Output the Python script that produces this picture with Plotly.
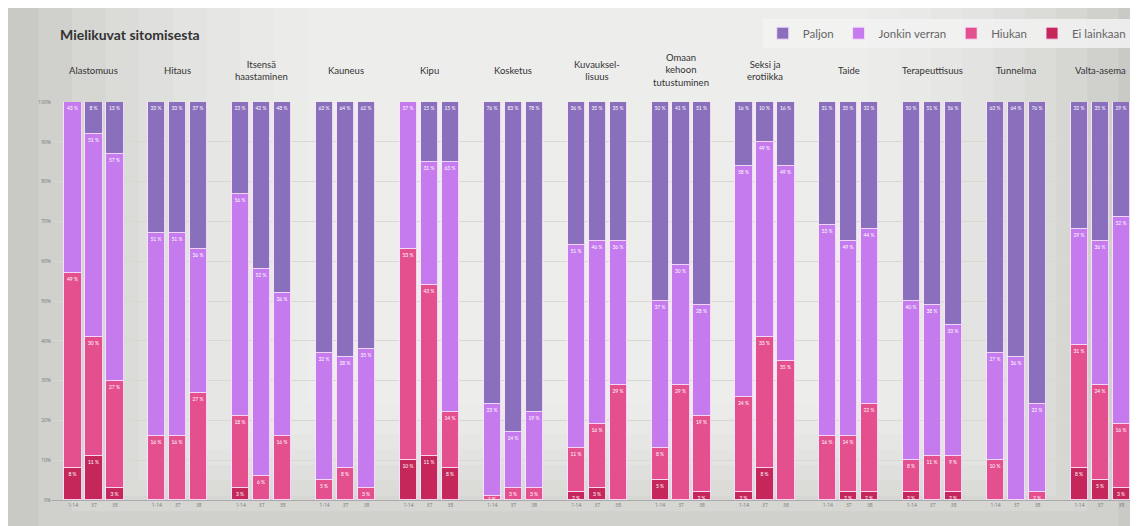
import plotly.graph_objects as go

# ---------------- data ----------------
categories = ["Alastomuus", "Hitaus", "Itsensä<br>haastaminen", "Kauneus", "Kipu", "Kosketus",
              "Kuvauksel-<br>lisuus", "Omaan<br>kehoon<br>tutustuminen", "Seksi ja<br>erotiikka",
              "Taide", "Terapeuttisuus", "Tunnelma", "Valta-asema"]
bar_labels = ["1-14", "37", "38"]

ei_lainkaan = [8, 11, 3,   0, 0, 0,   3, 0, 0,   0, 0, 0,   10, 11, 8,   0, 0, 0,
               2, 3, 0,   5, 0, 2,   2, 8, 0,   0, 2, 2,   2, 0, 2,   0, 0, 0,   8, 5, 3]
hiukan = [49, 30, 27,   16, 16, 27,   18, 6, 16,   5, 8, 3,   53, 43, 14,   1, 3, 3,
          11, 16, 29,   8, 29, 19,   24, 33, 35,   16, 14, 22,   8, 11, 9,   10, 0, 2,   31, 24, 16]
jonkin_verran = [43, 51, 57,   51, 51, 36,   56, 52, 36,   32, 28, 35,   37, 31, 63,   23, 14, 19,
                 51, 46, 36,   37, 30, 28,   58, 49, 49,   53, 49, 44,   40, 38, 33,   27, 36, 22,   29, 36, 52]
paljon = [0, 8, 13,   33, 33, 37,   23, 42, 48,   63, 64, 62,   0, 15, 15,   76, 83, 78,
          36, 35, 35,   50, 41, 51,   16, 10, 16,   31, 35, 32,   50, 51, 56,   63, 64, 76,   32, 35, 29]

series = [
    ("Ei lainkaan", ei_lainkaan, "#c5275a"),
    ("Hiukan", hiukan, "#e44f8e"),
    ("Jonkin verran", jonkin_verran, "#c57aee"),
    ("Paljon", paljon, "#8a70bc"),
]

# positions: group g, bar b -> g*4 + b
xpos = [g * 4 + b for g in range(len(categories)) for b in range(3)]
ticktext = [bar_labels[b] for g in range(len(categories)) for b in range(3)]

W, H = 1130, 518
ML, MR, MT, MB = 44, 4, 94, 26

fig = go.Figure()
for name, vals, col in series:
    fig.add_trace(go.Bar(
        x=xpos, y=vals, name=name,
        marker=dict(color=col, line=dict(color="rgba(250,225,255,0.9)", width=1)),
        width=0.82,
        text=[f"{v} %" if v > 0 else "" for v in vals],
        textposition="inside", insidetextanchor="end",
        textfont=dict(size=5, color="white", family="Lato"),
        textangle=0,
        hoverinfo="skip",
    ))

# background gradient approximation (figure-covering shapes in paper coords)
PW, PH = W - ML - MR, H - MT - MB
X0, X1 = -ML / PW - 0.002, 1 + MR / PW + 0.002
Y0, Y1 = -MB / PH - 0.002, 1 + MT / PH + 0.002
shapes = [dict(type="rect", xref="paper", yref="paper", x0=X0, x1=X1, y0=Y0, y1=Y1,
               fillcolor="#c9c9c6", line=dict(width=0), layer="below")]
steps = 9
for i in range(steps):
    f = i / steps
    shapes.append(dict(type="rect", xref="paper", yref="paper",
                       x0=X0 + 0.03 + f * 0.28, x1=X1 - 0.02 - f * 0.26,
                       y0=Y0 + f * 0.35, y1=Y1,
                       fillcolor="rgba(255,255,255,0.13)", line=dict(width=0), layer="below"))

annotations = []
for g, cat in enumerate(categories):
    annotations.append(dict(
        x=g * 4 + 1, y=1.08, xref="x", yref="paper", text=cat, showarrow=False,
        xanchor="center", yanchor="middle", align="center",
        font=dict(size=9.5, color="#333333", family="Lato")))

fig.update_layout(
    width=W, height=H,
    margin=dict(l=ML, r=MR, t=MT, b=MB),
    paper_bgcolor="white", plot_bgcolor="rgba(0,0,0,0)",
    barmode="stack", bargap=0,
    shapes=shapes, annotations=annotations,
    title=dict(text="<b>Mielikuvat sitomisesta</b>", x=52 / W, xanchor="left",
               y=1 - 27 / H, yanchor="middle",
               font=dict(size=14, color="#333333", family="Lato")),
    legend=dict(orientation="h", traceorder="reversed", x=0.997, xanchor="right",
                y=1.173, yanchor="middle", bgcolor="rgba(242,242,242,0.85)",
                font=dict(size=11.5, color="#666666", family="Lato"),
                itemwidth=30, tracegroupgap=0),
    xaxis=dict(range=[-1, 50.6], tickmode="array", tickvals=xpos, ticktext=ticktext,
               tickfont=dict(size=5, color="#777777"), showgrid=False, zeroline=False,
               showline=True, linecolor="#aaaaaa", ticks=""),
    yaxis=dict(range=[0, 100], dtick=10, ticksuffix="%", tickfont=dict(size=5, color="#777777"),
               showgrid=True, gridcolor="#d8d8d2", zeroline=False, ticks=""),
    uniformtext=dict(minsize=5, mode="show"),
)

fig.write_html("out.html")
